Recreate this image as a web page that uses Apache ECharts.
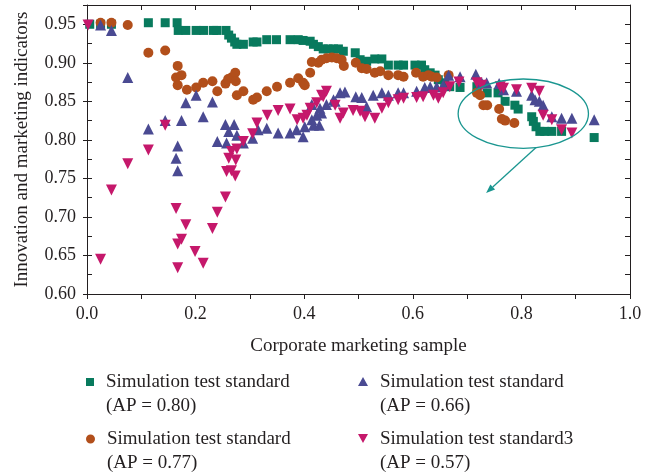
<!DOCTYPE html>
<html>
<head>
<meta charset="utf-8">
<script src="https://cdn.jsdelivr.net/npm/echarts@6/dist/echarts.min.js"></script>
<style>html,body{margin:0;padding:0;background:#fff}#c{width:659px;height:474px}</style>
</head>
<body>
<div id="c"></div>
<script>
// ---- data ----
var xAxisTitle = 'Corporate marketing sample';
var yAxisTitle = 'Innovation and marketing indicators';
var seriesNames = ['Simulation test standard\n(AP = 0.80)', 'Simulation test standard\n(AP = 0.77)', 'Simulation test standard\n(AP = 0.66)', 'Simulation test standard3\n(AP = 0.57)'];

var greenSquares = [[0.005,0.95],[0.025,0.95],[0.045,0.95],[0.113,0.952],[0.144,0.952],[0.166,0.952],[0.168,0.942],[0.182,0.942],[0.201,0.942],[0.215,0.942],[0.233,0.942],[0.239,0.942],[0.256,0.942],[0.261,0.936],[0.266,0.932],[0.272,0.927],[0.276,0.924],[0.288,0.924],[0.306,0.927],[0.313,0.927],[0.331,0.93],[0.349,0.93],[0.374,0.93],[0.389,0.93],[0.398,0.929],[0.411,0.928],[0.417,0.924],[0.426,0.921],[0.435,0.918],[0.444,0.918],[0.454,0.918],[0.463,0.918],[0.472,0.915],[0.494,0.913],[0.503,0.904],[0.515,0.902],[0.53,0.905],[0.543,0.905],[0.555,0.897],[0.573,0.897],[0.583,0.897],[0.604,0.897],[0.616,0.897],[0.622,0.891],[0.632,0.887],[0.641,0.884],[0.647,0.878],[0.659,0.874],[0.668,0.869],[0.687,0.868],[0.718,0.869],[0.737,0.861],[0.757,0.861],[0.77,0.85],[0.788,0.845],[0.794,0.84],[0.819,0.83],[0.822,0.824],[0.827,0.817],[0.834,0.811],[0.843,0.811],[0.856,0.811],[0.874,0.811],[0.934,0.803]];

var orangeCircles = [[0.025,0.952],[0.045,0.952],[0.075,0.949],[0.113,0.913],[0.144,0.916],[0.167,0.896],[0.164,0.881],[0.174,0.884],[0.167,0.871],[0.184,0.865],[0.201,0.868],[0.214,0.874],[0.231,0.876],[0.24,0.863],[0.255,0.873],[0.26,0.879],[0.266,0.881],[0.273,0.887],[0.274,0.876],[0.276,0.858],[0.288,0.863],[0.306,0.852],[0.313,0.855],[0.331,0.863],[0.35,0.869],[0.374,0.874],[0.389,0.88],[0.398,0.874],[0.401,0.871],[0.411,0.887],[0.414,0.901],[0.426,0.9],[0.432,0.904],[0.441,0.906],[0.451,0.907],[0.46,0.906],[0.469,0.904],[0.473,0.896],[0.495,0.9],[0.506,0.893],[0.515,0.892],[0.53,0.887],[0.54,0.889],[0.555,0.884],[0.573,0.884],[0.583,0.882],[0.606,0.887],[0.619,0.882],[0.629,0.884],[0.635,0.882],[0.644,0.881],[0.666,0.884],[0.718,0.861],[0.724,0.858],[0.73,0.845],[0.737,0.845],[0.759,0.84],[0.764,0.827],[0.77,0.825],[0.787,0.822]];

var blueTriangles = [[0.025,0.949],[0.045,0.942],[0.075,0.881],[0.113,0.814],[0.144,0.825],[0.164,0.776],[0.167,0.792],[0.167,0.76],[0.174,0.825],[0.182,0.848],[0.201,0.858],[0.214,0.83],[0.231,0.849],[0.24,0.798],[0.255,0.82],[0.257,0.796],[0.261,0.811],[0.271,0.82],[0.276,0.806],[0.288,0.796],[0.305,0.802],[0.315,0.813],[0.331,0.815],[0.352,0.809],[0.374,0.809],[0.386,0.813],[0.398,0.804],[0.401,0.817],[0.414,0.826],[0.417,0.819],[0.423,0.832],[0.428,0.819],[0.432,0.835],[0.414,0.846],[0.429,0.841],[0.441,0.846],[0.454,0.852],[0.457,0.85],[0.466,0.861],[0.475,0.862],[0.495,0.856],[0.506,0.855],[0.515,0.843],[0.527,0.858],[0.543,0.861],[0.555,0.858],[0.573,0.861],[0.583,0.861],[0.607,0.863],[0.622,0.868],[0.632,0.869],[0.644,0.869],[0.656,0.871],[0.666,0.884],[0.687,0.882],[0.716,0.885],[0.727,0.874],[0.736,0.874],[0.759,0.873],[0.767,0.865],[0.791,0.863],[0.819,0.858],[0.825,0.852],[0.833,0.85],[0.84,0.845],[0.856,0.83],[0.874,0.828],[0.893,0.828],[0.934,0.826]];

var pinkTriangles = [[0.002,0.949],[0.025,0.645],[0.045,0.735],[0.075,0.769],[0.113,0.787],[0.144,0.819],[0.164,0.711],[0.167,0.665],[0.167,0.634],[0.174,0.671],[0.182,0.69],[0.199,0.655],[0.214,0.64],[0.231,0.685],[0.24,0.706],[0.255,0.726],[0.257,0.759],[0.266,0.76],[0.273,0.753],[0.261,0.776],[0.274,0.774],[0.266,0.785],[0.276,0.788],[0.288,0.798],[0.305,0.808],[0.313,0.822],[0.332,0.832],[0.352,0.838],[0.374,0.84],[0.387,0.826],[0.398,0.828],[0.405,0.832],[0.411,0.841],[0.423,0.848],[0.432,0.858],[0.435,0.856],[0.441,0.863],[0.457,0.845],[0.466,0.828],[0.472,0.835],[0.49,0.838],[0.503,0.837],[0.512,0.83],[0.53,0.828],[0.543,0.841],[0.555,0.848],[0.573,0.852],[0.583,0.854],[0.607,0.855],[0.619,0.856],[0.638,0.858],[0.647,0.854],[0.656,0.861],[0.668,0.869],[0.685,0.875],[0.718,0.874],[0.727,0.871],[0.761,0.869],[0.767,0.867],[0.791,0.865],[0.819,0.867],[0.833,0.863],[0.84,0.832],[0.856,0.826],[0.874,0.813],[0.893,0.809]];

// annotation (data coordinates)
var ellipseCenter = [0.8035, 0.834];
var ellipseRadius = [0.12, 0.045];
var arrowFrom = [0.827, 0.79];
var arrowTo = [0.735, 0.731];

// ---- chart ----
var FONT = 'Liberation Serif';
var TXT = '#231f20';
var colors = ['#087a5d', '#b24f1b', '#4a4a92', '#c5186b'];
var chart = echarts.init(document.getElementById('c'), null, {renderer: 'canvas'});

function isMult(v, step) { var r = v / step; return Math.abs(r - Math.round(r)) < 1e-6; }
var axisLineStyle = {color: '#231f20', width: 1};

// legend icons: shape at top of a tall box (zero-area line at bottom sets the box)
var legendIcons = [
  'path://M0,0 L8,0 L8,8 L0,8 Z M0,32 L8,32 Z',
  'path://M0,4.5 A4.5,4.5 0 1 1 9,4.5 A4.5,4.5 0 1 1 0,4.5 Z M0,33 L9,33 Z',
  'path://M5,0 L10,9 L0,9 Z M0,34 L10,34 Z',
  'path://M0,0 L10,0 L5,9 Z M0,34 L10,34 Z'
];
var iconSize = [[8, 32], [9, 33], [10, 34], [10, 34]];

function legendFor(i, left, top) {
  return {
    data: [{name: 's' + i, icon: legendIcons[i]}], left: left, top: top, orient: 'vertical',
    itemWidth: iconSize[i][0], itemHeight: iconSize[i][1], selectedMode: false,
    symbolRotate: 0,
    formatter: function () { return seriesNames[i]; },
    textStyle: {fontFamily: FONT, fontSize: 19, color: TXT, lineHeight: 24, padding: [0, 0, 0, 7]}
  };
}

var option = {
  animation: false,
  backgroundColor: '#fff',
  grid: {left: 87, right: 29, top: 5, bottom: 180, containLabel: false},
  xAxis: [
    {type: 'value', position: 'bottom', min: 0, max: 1, interval: 0.1,
     name: xAxisTitle, nameLocation: 'middle', nameGap: 43,
     nameTextStyle: {fontFamily: FONT, fontSize: 19, color: TXT},
     axisLine: {lineStyle: axisLineStyle},
     axisTick: {inside: false, length: 5, lineStyle: axisLineStyle},
     axisLabel: {fontFamily: FONT, fontSize: 18, color: TXT, margin: 11,
       formatter: function (v) { return isMult(v, 0.2) ? v.toFixed(1) : ''; }},
     splitLine: {show: false}},
    {type: 'value', position: 'top', min: 0, max: 1, interval: 0.1,
     axisLine: {lineStyle: axisLineStyle},
     axisTick: {inside: true, length: 5, lineStyle: axisLineStyle},
     axisLabel: {show: false}, splitLine: {show: false}}
  ],
  yAxis: [
    {type: 'value', position: 'left', min: 0.6, max: 0.975, interval: 0.05,
     name: yAxisTitle, nameLocation: 'middle', nameGap: 55,
     nameTextStyle: {fontFamily: FONT, fontSize: 19, color: TXT},
     axisLine: {lineStyle: axisLineStyle},
     axisTick: {inside: false, length: 4, lineStyle: axisLineStyle},
     axisLabel: {fontFamily: FONT, fontSize: 18, color: TXT, margin: 11,
       formatter: function (v) { return isMult(v, 0.05) ? v.toFixed(2) : ''; }},
     splitLine: {show: false}},
    {type: 'value', position: 'left', min: 0.6, max: 0.975, interval: 0.025,
     axisLine: {show: false},
     axisTick: {inside: true, length: 5, lineStyle: axisLineStyle},
     axisLabel: {show: false}, splitLine: {show: false}},
    {type: 'value', position: 'right', min: 0.6, max: 0.975, interval: 0.025,
     axisLine: {lineStyle: axisLineStyle},
     axisTick: {inside: true, length: 5, lineStyle: axisLineStyle},
     axisLabel: {show: false}, splitLine: {show: false}}
  ],
  legend: [
    legendFor(0, 81, 365),
    legendFor(2, 353, 365),
    legendFor(1, 81, 422),
    legendFor(3, 353, 422)
  ],
  series: [
    {name: 's0', type: 'scatter', data: greenSquares, symbol: 'rect', symbolSize: 9,
     itemStyle: {color: colors[0], opacity: 1}},
    {name: 's1', type: 'scatter', data: orangeCircles, symbol: 'circle', symbolSize: 10,
     itemStyle: {color: colors[1], opacity: 1}},
    {name: 's2', type: 'scatter', data: blueTriangles, symbol: 'triangle', symbolSize: 11,
     itemStyle: {color: colors[2], opacity: 1}},
    {name: 's3', type: 'scatter', data: pinkTriangles, symbol: 'triangle', symbolRotate: 180, symbolSize: 11,
     itemStyle: {color: colors[3], opacity: 1}}
  ]
};
chart.setOption(option);

// annotation ellipse + arrow via axis scales
function px(p) { return chart.convertToPixel({xAxisIndex: 0, yAxisIndex: 0}, p); }
var c = px(ellipseCenter);
var e = px([ellipseCenter[0] + ellipseRadius[0], ellipseCenter[1] + ellipseRadius[1]]);
var a0 = px(arrowFrom), a1 = px(arrowTo);
var dx = a1[0] - a0[0], dy = a1[1] - a0[1], L = Math.sqrt(dx * dx + dy * dy);
var ux = dx / L, uy = dy / L, hl = 9, hw = 3.5;
var base = [a1[0] - ux * hl, a1[1] - uy * hl];
var annColor = '#1a9690';
chart.setOption({
  graphic: [
    {type: 'ellipse', shape: {cx: c[0], cy: c[1], rx: Math.abs(e[0] - c[0]), ry: Math.abs(e[1] - c[1])},
     style: {fill: 'none', stroke: annColor, lineWidth: 1.3}, z: 100},
    {type: 'line', shape: {x1: a0[0], y1: a0[1], x2: base[0], y2: base[1]},
     style: {stroke: annColor, lineWidth: 1.3}, z: 100},
    {type: 'polygon', shape: {points: [a1, [base[0] - uy * hw, base[1] + ux * hw], [base[0] + uy * hw, base[1] - ux * hw]]},
     style: {fill: annColor}, z: 100}
  ]
});
</script>
</body>
</html>
